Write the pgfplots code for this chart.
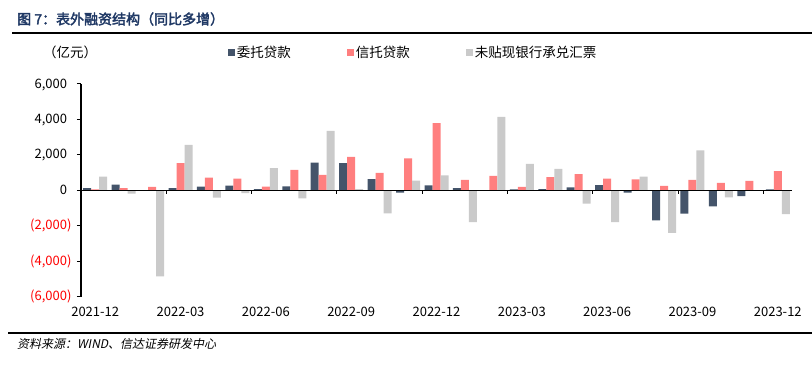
\documentclass[border=0pt]{standalone}
\usepackage{fontspec}
\setmainfont{Noto Sans CJK SC}[AutoFakeBold=2.5, AutoFakeSlant=0.2]
\usepackage{pgfplots}
\pgfplotsset{compat=1.18}
\usepackage{pgfplotstable}
\definecolor{cdark}{HTML}{44546A}
\definecolor{cpink}{HTML}{FF7F7F}
\definecolor{cgray}{HTML}{CACACA}
\definecolor{ctitle}{HTML}{1F3864}
\pgfplotstableread{
idx dark pink gray
0 130 60 770
1 320 130 -190
2 0 190 -4850
3 130 1530 2570
4 210 720 -410
5 260 660 -150
6 75 210 1260
7 230 1150 -450
8 1570 870 3360
9 1530 1890 75
10 640 980 -1300
11 -130 1810 550
12 280 3790 850
13 130 590 -1790
14 0 810 4150
15 50 190 1490
16 75 740 1210
17 170 910 -750
18 300 660 -1790
19 -130 620 770
20 -1700 250 -2400
21 -1320 590 2260
22 -910 420 -400
23 -320 530 0
24 50 1090 -1340
}\datatable
\begin{document}
\begin{tikzpicture}[x=1pt,y=1pt]
\path[use as bounding box] (0,0) rectangle (812,366);
% title
\node[anchor=west, inner sep=0pt, text=ctitle, font=\fontsize{14}{16}\selectfont\bfseries] at (17,347) {图 7：表外融资结构（同比多增）};
\draw[black, line width=1.8pt] (12,333) -- (812,333);
\draw[black, line width=1.8pt] (8,33) -- (812,33);
\node[anchor=west, inner sep=0pt, font=\fontsize{12}{14}\selectfont\itshape] at (17,22) {资料来源：WIND、信达证券研发中心};
\node[anchor=west, inner sep=0pt, font=\fontsize{13.5}{16}\selectfont] at (43,314) {（亿元）};
\begin{axis}[
  at={(81pt,69.3pt)}, anchor=south west, scale only axis,
  width=711pt, height=212.7pt,
  xmin=-0.5, xmax=24.5, ymin=-6000, ymax=6000,
  axis y line*=left, axis x line*=bottom,
  x axis line style={draw=none},
  y axis line style={black, line width=1.2pt},
  xtick={0,3,...,24},
  xticklabels={2021-12,2022-03,2022-06,2022-09,2022-12,2023-03,2023-06,2023-09,2023-12},
  xtick style={draw=none},
  ytick={-6000,-4000,-2000,0,2000,4000,6000},
  yticklabels={{\textcolor{red}{(6,000)}},{\textcolor{red}{(4,000)}},{\textcolor{red}{(2,000)}},{0\phantom{)}},{2,000\phantom{)}},{4,000\phantom{)}},{6,000\phantom{)}}},
  ytick style={black, line width=1pt},
  tick align=outside, major tick length=4pt,
  ticklabel style={font=\fontsize{13}{15}\selectfont},
  yticklabel style={xshift=-2pt},
  xticklabel style={yshift=-3pt},
  ybar=0pt, bar width=8pt,
  legend columns=3,
  legend style={at={(axis description cs:0.202,1.15)}, anchor=west, draw=none, fill=none,
    font=\fontsize{13.5}{16}\selectfont,
    /tikz/every even column/.append style={column sep=54pt}},
  legend image code/.code={\fill[#1] (0pt,-3.5pt) rectangle (7pt,3.5pt);},
]
\addplot[fill=cdark, draw=none] table[x=idx, y=dark] {\datatable};
\addplot[fill=cpink, draw=none] table[x=idx, y=pink] {\datatable};
\addplot[fill=cgray, draw=none] table[x=idx, y=gray] {\datatable};
\legend{委托贷款,信托贷款,未贴现银行承兑汇票}
\draw[black, line width=1.5pt] (axis cs:-0.5,0) -- (axis cs:24.5,0);
\draw[black, line width=1pt] (axis cs:2.5,0) -- ([yshift=-4pt]axis cs:2.5,0);
\draw[black, line width=1pt] (axis cs:5.5,0) -- ([yshift=-4pt]axis cs:5.5,0);
\draw[black, line width=1pt] (axis cs:8.5,0) -- ([yshift=-4pt]axis cs:8.5,0);
\draw[black, line width=1pt] (axis cs:11.5,0) -- ([yshift=-4pt]axis cs:11.5,0);
\draw[black, line width=1pt] (axis cs:14.5,0) -- ([yshift=-4pt]axis cs:14.5,0);
\draw[black, line width=1pt] (axis cs:17.5,0) -- ([yshift=-4pt]axis cs:17.5,0);
\draw[black, line width=1pt] (axis cs:20.5,0) -- ([yshift=-4pt]axis cs:20.5,0);
\draw[black, line width=1pt] (axis cs:23.5,0) -- ([yshift=-4pt]axis cs:23.5,0);
\end{axis}
\end{tikzpicture}
\end{document}
